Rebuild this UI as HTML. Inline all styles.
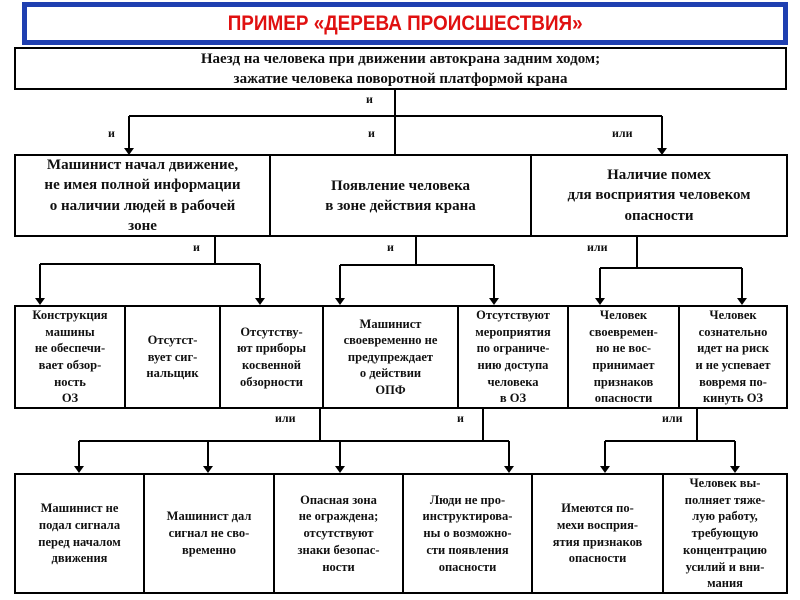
<!DOCTYPE html>
<html><head><meta charset="utf-8"><style>
body{margin:0;width:800px;height:600px;background:#fff;position:relative;overflow:hidden;font-family:"Liberation Serif",serif;}
.b{position:absolute;box-sizing:border-box;border:2px solid #000;display:flex;align-items:center;justify-content:center;text-align:center;font-weight:bold;color:#111;}
.l{position:absolute;font-family:"Liberation Serif",serif;font-weight:bold;font-size:12px;color:#111;}
svg{position:absolute;left:0;top:0;}
</style></head><body>
<div style="position:absolute;left:22px;top:2px;width:766px;height:43px;box-sizing:border-box;border:5px solid #1f3fb0;display:flex;align-items:center;justify-content:center;">
<span style="font-family:'Liberation Sans',sans-serif;font-weight:bold;color:#e01010;font-size:21px;transform:scaleX(0.9);display:inline-block">ПРИМЕР «ДЕРЕВА ПРОИСШЕСТВИЯ»</span></div>
<div class="b" style="left:14px;top:47px;width:773px;height:43px;font-size:15px;line-height:20px">Наезд на человека при движении автокрана задним ходом;<br>зажатие человека поворотной платформой крана</div>

<svg width="800" height="600">
<g stroke="#000" stroke-width="2" fill="none">
<path d="M395 90V154M129 116H662M129 116V150M662 116V150"/>
<path d="M215 237V264M40 264H260M40 264V300M260 264V300"/>
<path d="M416 237V265M340 265H494M340 265V300M494 265V300"/>
<path d="M637 237V268M600 268H742M600 268V300M742 268V300"/>
<path d="M320 409V441M483 409V441M79 441H509M79 441V468M208 441V468M340 441V468M509 441V468"/>
<path d="M697 409V441M605 441H735M605 441V468M735 441V468"/>
</g>
<g fill="#000">
<path d="M124 148h10l-5 7z M657 148h10l-5 7z"/>
<path d="M35 298h10l-5 7z M255 298h10l-5 7z M335 298h10l-5 7z M489 298h10l-5 7z M595 298h10l-5 7z M737 298h10l-5 7z"/>
<path d="M74 466h10l-5 7z M203 466h10l-5 7z M335 466h10l-5 7z M504 466h10l-5 7z M600 466h10l-5 7z M730 466h10l-5 7z"/>
</g></svg>

<div class="l" style="left:366px;top:92px">и</div>
<div class="l" style="left:108px;top:126px">и</div>
<div class="l" style="left:368px;top:126px">и</div>
<div class="l" style="left:612px;top:126px">или</div>
<div class="l" style="left:193px;top:240px">и</div>
<div class="l" style="left:387px;top:240px">и</div>
<div class="l" style="left:587px;top:240px">или</div>
<div class="l" style="left:275px;top:411px">или</div>
<div class="l" style="left:457px;top:411px">и</div>
<div class="l" style="left:662px;top:411px">или</div>

<div class="b" style="left:14px;top:154px;width:257px;height:83px;font-size:15px;line-height:20.5px">Машинист начал движение,<br>не имея полной информации<br>о наличии людей в рабочей<br>зоне</div>
<div class="b" style="left:269px;top:154px;width:263px;height:83px;font-size:15px;line-height:20px">Появление человека<br>в зоне действия крана</div>
<div class="b" style="left:530px;top:154px;width:258px;height:83px;font-size:15px;line-height:20.5px">Наличие помех<br>для восприятия человеком<br>опасности</div>

<div class="b" style="left:14px;top:305px;width:112px;height:104px;font-size:12.5px;line-height:16.6px">Конструкция<br>машины<br>не обеспечи-<br>вает обзор-<br>ность<br>ОЗ</div>
<div class="b" style="left:124px;top:305px;width:97px;height:104px;font-size:12.5px;line-height:16.6px">Отсутст-<br>вует сиг-<br>нальщик</div>
<div class="b" style="left:219px;top:305px;width:105px;height:104px;font-size:12.5px;line-height:16.6px">Отсутству-<br>ют приборы<br>косвенной<br>обзорности</div>
<div class="b" style="left:322px;top:305px;width:137px;height:104px;font-size:12.5px;line-height:16.6px">Машинист<br>своевременно не<br>предупреждает<br>о действии<br>ОПФ</div>
<div class="b" style="left:457px;top:305px;width:112px;height:104px;font-size:12.5px;line-height:16.6px">Отсутствуют<br>мероприятия<br>по ограниче-<br>нию доступа<br>человека<br>в ОЗ</div>
<div class="b" style="left:567px;top:305px;width:113px;height:104px;font-size:12.5px;line-height:16.6px">Человек<br>своевремен-<br>но не вос-<br>принимает<br>признаков<br>опасности</div>
<div class="b" style="left:678px;top:305px;width:110px;height:104px;font-size:12.5px;line-height:16.6px">Человек<br>сознательно<br>идет на риск<br>и не успевает<br>вовремя по-<br>кинуть ОЗ</div>

<div class="b" style="left:14px;top:473px;width:131px;height:121px;font-size:12.5px;line-height:16.7px">Машинист не<br>подал сигнала<br>перед началом<br>движения</div>
<div class="b" style="left:143px;top:473px;width:132px;height:121px;font-size:12.5px;line-height:16.7px">Машинист дал<br>сигнал не сво-<br>временно</div>
<div class="b" style="left:273px;top:473px;width:131px;height:121px;font-size:12.5px;line-height:16.7px">Опасная зона<br>не ограждена;<br>отсутствуют<br>знаки безопас-<br>ности</div>
<div class="b" style="left:402px;top:473px;width:131px;height:121px;font-size:12.5px;line-height:16.7px">Люди не про-<br>инструктирова-<br>ны о возможно-<br>сти появления<br>опасности</div>
<div class="b" style="left:531px;top:473px;width:133px;height:121px;font-size:12.5px;line-height:16.7px">Имеются по-<br>мехи восприя-<br>ятия признаков<br>опасности</div>
<div class="b" style="left:662px;top:473px;width:126px;height:121px;font-size:12.5px;line-height:16.7px">Человек вы-<br>полняет тяже-<br>лую работу,<br>требующую<br>концентрацию<br>усилий и вни-<br>мания</div>
</body></html>
